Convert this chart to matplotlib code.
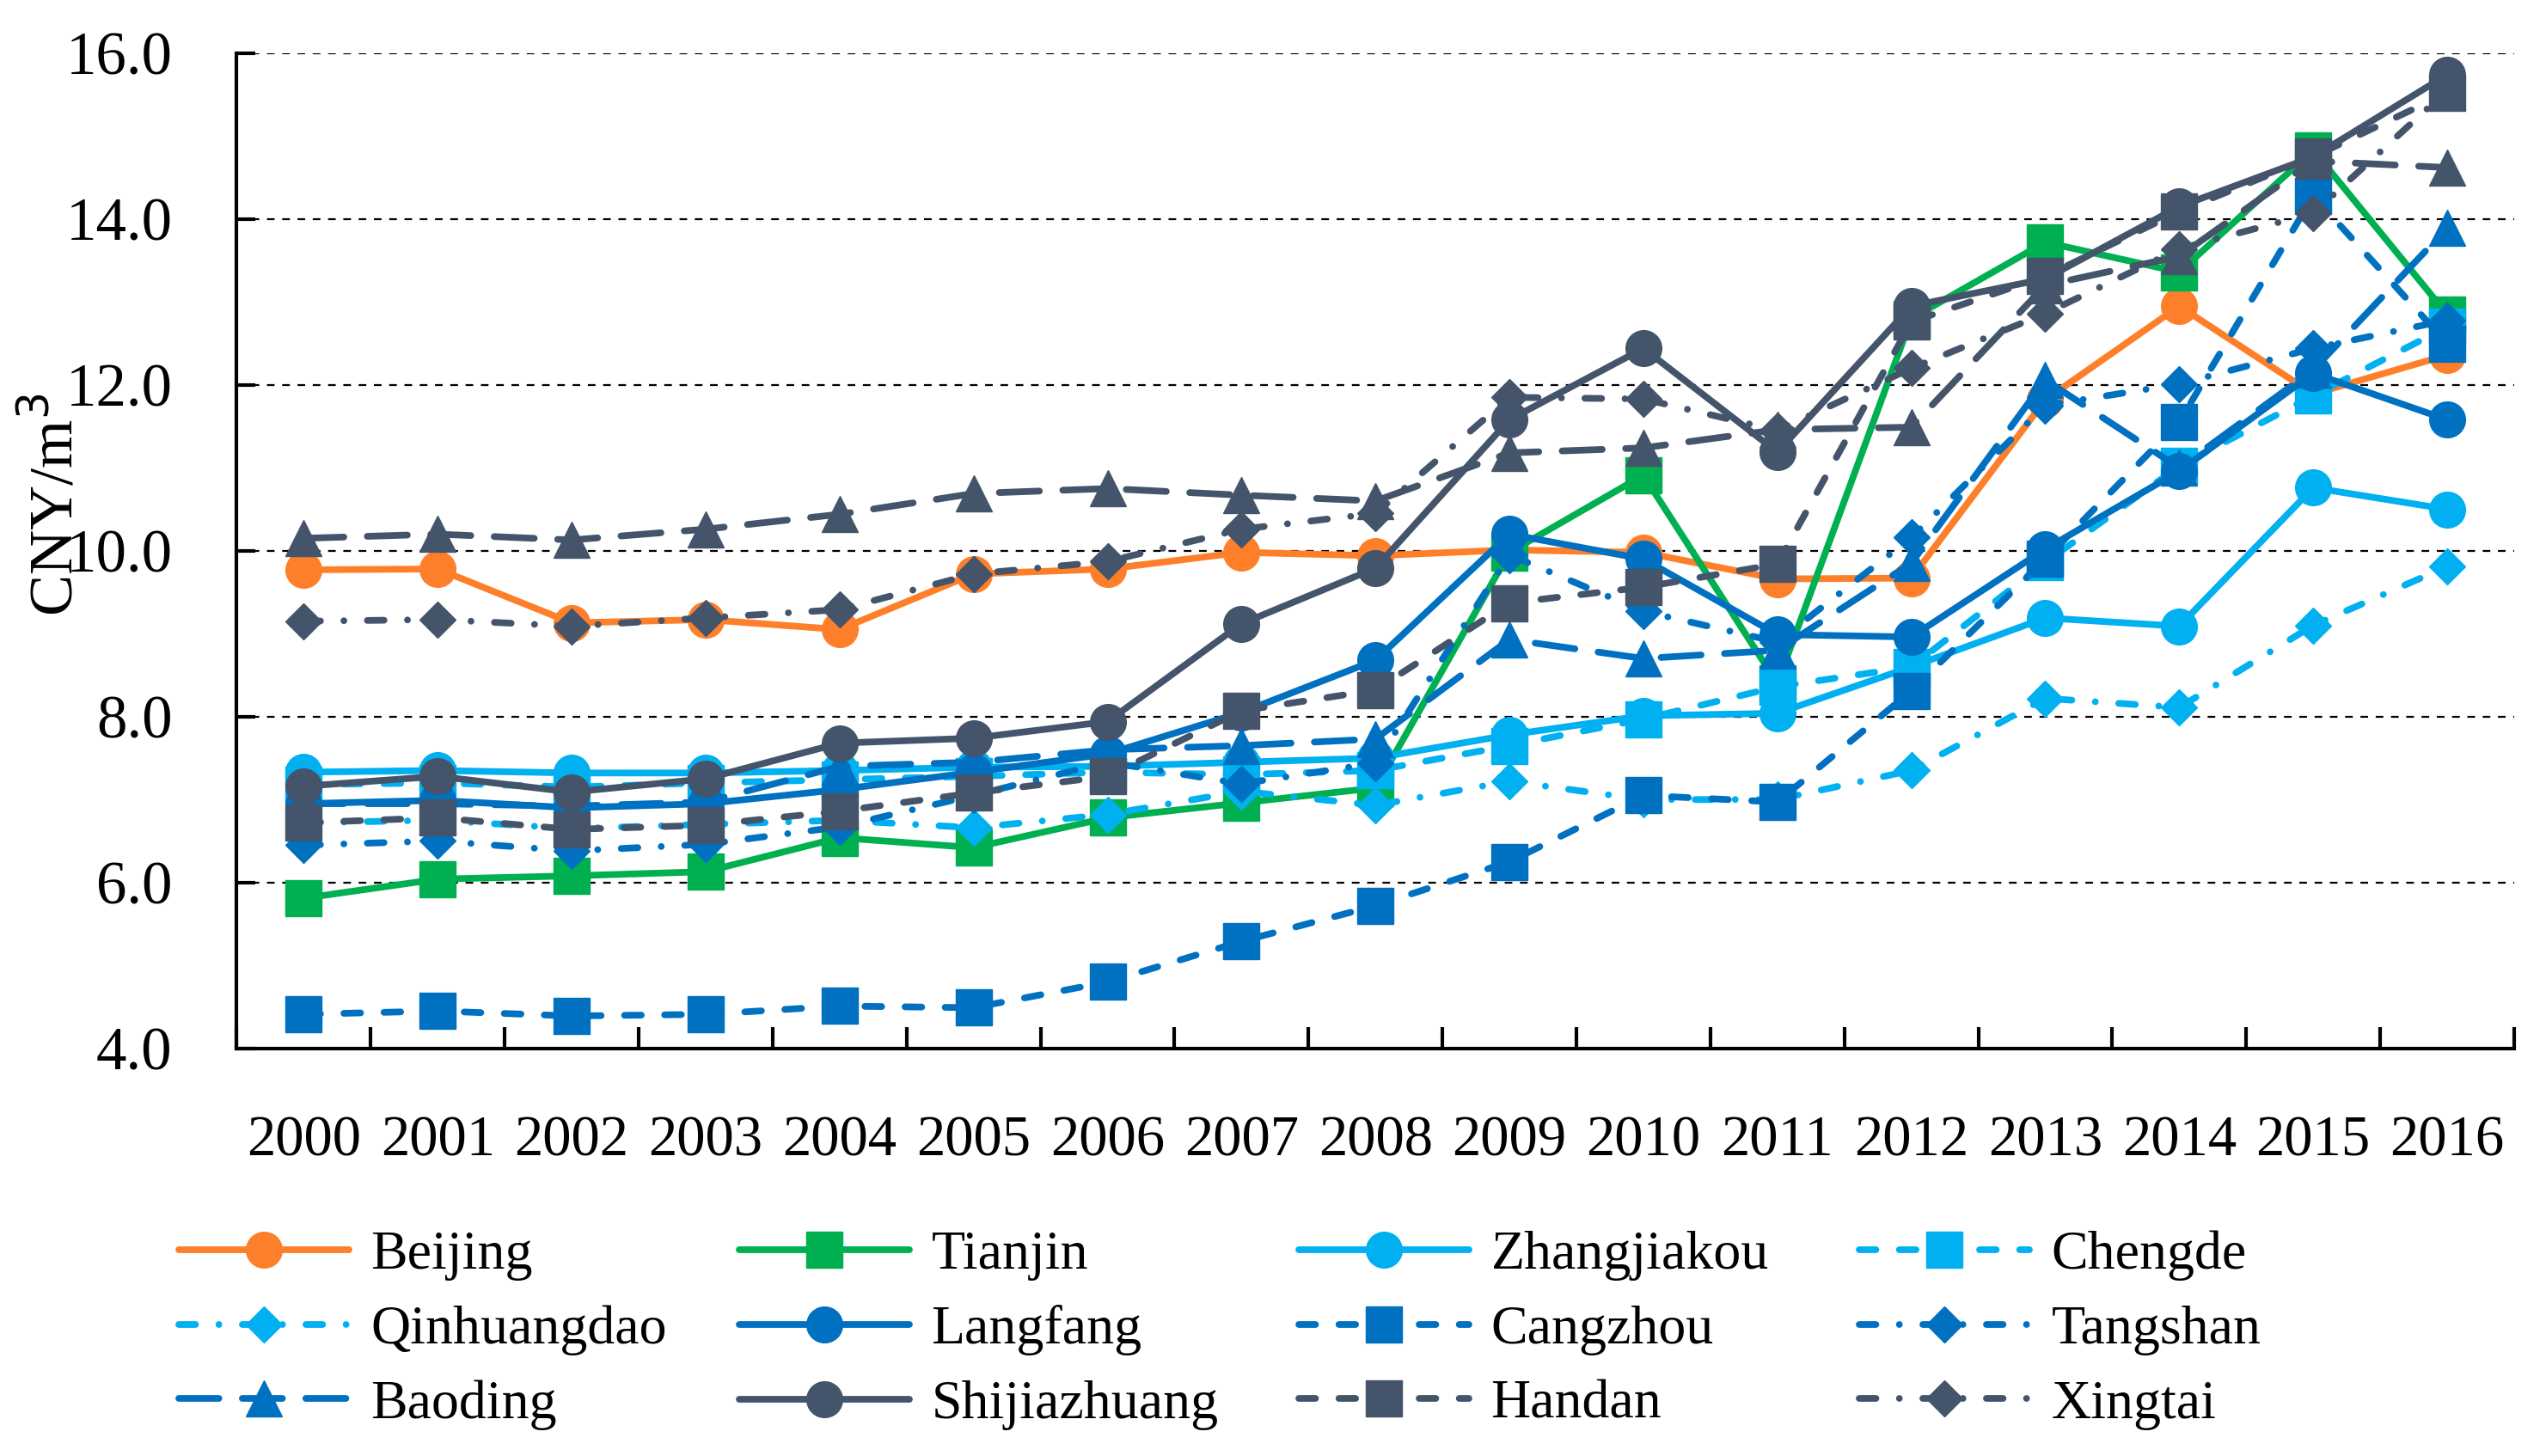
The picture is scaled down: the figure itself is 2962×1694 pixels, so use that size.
import matplotlib.pyplot as plt

plt.rcParams['font.family'] = ['Liberation Serif', 'DejaVu Serif']

years = [str(y) for y in range(2000, 2017)]

beijing      = [9.77, 9.78, 9.13, 9.17, 9.05, 9.72, 9.78, 9.98, 9.94, 10.01, 9.98, 9.66, 9.67, 11.82, 12.95, 11.89, 12.36]
tianjin      = [5.81, 6.04, 6.08, 6.13, 6.54, 6.42, 6.78, 6.96, 7.14, 9.98, 10.91, 8.40, 12.80, 13.72, 13.36, 14.83, 12.85]
zhangjiakou  = [7.33, 7.35, 7.32, 7.32, 7.35, 7.39, 7.40, 7.45, 7.50, 7.78, 8.01, 8.04, 8.60, 9.19, 9.09, 10.76, 10.50]
chengde      = [7.18, 7.20, 7.15, 7.20, 7.24, 7.28, 7.33, 7.30, 7.35, 7.65, 7.97, 8.36, 8.60, 9.86, 11.02, 11.87, 12.70]
qinhuangdao  = [6.72, 6.75, 6.65, 6.70, 6.75, 6.66, 6.82, 7.10, 6.93, 7.22, 7.00, 7.00, 7.35, 8.22, 8.11, 9.10, 9.81]
langfang     = [6.95, 6.99, 6.90, 6.95, 7.12, 7.33, 7.55, 8.05, 8.68, 10.20, 9.90, 8.99, 8.96, 10.02, 10.96, 12.14, 11.58]
cangzhou     = [4.41, 4.45, 4.39, 4.41, 4.51, 4.49, 4.80, 5.29, 5.72, 6.25, 7.05, 6.97, 8.31, 9.90, 11.55, 14.28, 12.50]
tangshan     = [6.45, 6.50, 6.38, 6.46, 6.67, 7.05, 7.45, 7.19, 7.44, 9.95, 9.27, 8.90, 10.16, 11.75, 12.01, 12.44, 12.78]
baoding      = [6.95, 6.95, 6.92, 6.97, 7.40, 7.45, 7.60, 7.65, 7.73, 8.93, 8.70, 8.80, 9.85, 12.06, 11.00, 12.18, 13.89]
hengshui     = [10.15, 10.20, 10.13, 10.26, 10.44, 10.69, 10.75, 10.67, 10.60, 11.18, 11.24, 11.46, 11.49, 13.20, 13.55, 14.70, 14.62]
shijiazhuang = [7.16, 7.28, 7.09, 7.25, 7.68, 7.74, 7.94, 9.12, 9.79, 11.58, 12.44, 11.19, 12.95, 13.28, 14.15, 14.75, 15.74]
handan       = [6.72, 6.78, 6.64, 6.69, 6.86, 7.08, 7.28, 8.07, 8.32, 9.37, 9.56, 9.84, 12.76, 13.31, 14.09, 14.75, 15.52]
xingtai      = [9.15, 9.17, 9.09, 9.19, 9.29, 9.72, 9.87, 10.26, 10.45, 11.85, 11.83, 11.45, 12.20, 12.86, 13.64, 14.07, 15.55]

orange = '#FE7F2A'
green = '#00B050'
light = '#00B0F0'
blue = '#0070C0'
slate = '#44546A'

solid = '-'
dash = (0, (2.5, 3.5))
dashdot = (0, (2.5, 3.5, 0.01, 3.5))
longdash = (0, (6, 3.5))

# name, values, colour, linestyle, marker
series = [
    ('Beijing', beijing, orange, solid, 'o'),
    ('Tianjin', tianjin, green, solid, 's'),
    ('Zhangjiakou', zhangjiakou, light, solid, 'o'),
    ('Chengde', chengde, light, dash, 's'),
    ('Qinhuangdao', qinhuangdao, light, dashdot, 'D'),
    ('Langfang', langfang, blue, solid, 'o'),
    ('Cangzhou', cangzhou, blue, dash, 's'),
    ('Tangshan', tangshan, blue, dashdot, 'D'),
    ('Baoding', baoding, blue, longdash, '^'),
    ('_hengshui', hengshui, slate, longdash, '^'),
    ('Shijiazhuang', shijiazhuang, slate, solid, 'o'),
    ('Handan', handan, slate, dash, 's'),
    ('Xingtai', xingtai, slate, dashdot, 'D'),
]

fig = plt.figure(figsize=(14.81, 8.47), dpi=200)
ax = fig.add_axes([0.093, 0.28, 0.8945, 0.6835])

x = list(range(len(years)))
handles = {}
for name, vals, col, ls, mk in series:
    ms = 10.5 if mk == 'D' else 15
    ln, = ax.plot(x, vals, color=col, linestyle=ls, linewidth=2.8, marker=mk,
                  markersize=ms, markerfacecolor=col, markeredgecolor=col,
                  markeredgewidth=0.5, dash_capstyle='round',
                  solid_capstyle='round', label=name)
    handles[name] = ln

ax.set_xlim(-0.5, len(years) - 0.5)
ax.set_ylim(4, 16)
ax.set_yticks([4, 6, 8, 10, 12, 14, 16])
ax.set_yticklabels(['%.1f' % v for v in [4, 6, 8, 10, 12, 14, 16]], fontsize=25.5)
ax.set_xticks(x)
ax.set_xticklabels(years, fontsize=24)
ax.set_xticks([i + 0.5 for i in range(-1, len(years))], minor=True)
ax.tick_params(axis='x', which='major', length=0, pad=28)
ax.tick_params(axis='x', which='minor', direction='in', length=9, width=1.5)
ax.tick_params(axis='y', direction='in', length=8, width=1.5, pad=27)

ax.grid(axis='y', color='black', linestyle=(0, (4, 4)), linewidth=0.8)
ax.set_axisbelow(True)
for s in ['top', 'right']:
    ax.spines[s].set_visible(False)
for s in ['left', 'bottom']:
    ax.spines[s].set_linewidth(1.5)

ax.set_ylabel('CNY/m$^3$', fontsize=26)
ax.yaxis.set_label_coords(-0.066, 0.546)

order = [['Beijing', 'Qinhuangdao', 'Baoding'],
         ['Tianjin', 'Langfang', 'Shijiazhuang'],
         ['Zhangjiakou', 'Cangzhou', 'Handan'],
         ['Chengde', 'Tangshan', 'Xingtai']]
col_x = [0.0702, 0.2903, 0.5101, 0.7302]
for cx, names in zip(col_x, order):
    fig.legend([handles[n] for n in names], names, loc='upper left',
               bbox_to_anchor=(cx, 0.155), frameon=False, fontsize=23,
               numpoints=1, handlelength=3.1, handletextpad=0.4,
               labelspacing=0.44, borderpad=0, borderaxespad=0)

fig.savefig('out.png', dpi=200)
